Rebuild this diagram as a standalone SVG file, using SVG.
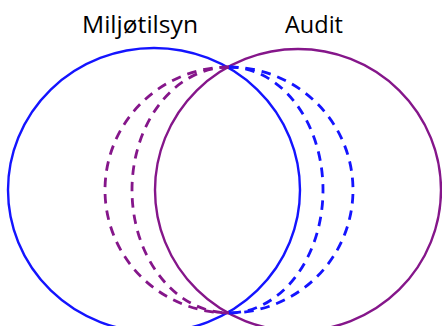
<svg xmlns="http://www.w3.org/2000/svg" width="442" height="326" viewBox="0 0 442 326">
  <style>
    .label { font-family: "Open Sans", "Liberation Sans", sans-serif; font-size: 23px; fill: #000; text-anchor: middle; }
    .ring { fill: none; stroke-width: 2.4; }
    .blue { stroke: #1414FF; }
    .purple { stroke: #85168A; }
    .dash { fill: none; stroke-width: 2.8; stroke-dasharray: 9.5 7; }
  </style>
  <rect width="442" height="326" fill="#fff"/>
  <g id="miljotilsyn">
    <ellipse class="ring blue" cx="154" cy="190" rx="146" ry="142"/>
    <text class="label" x="140" y="33" textLength="116" lengthAdjust="spacingAndGlyphs">Miljøtilsyn</text>
  </g>
  <g id="audit">
    <ellipse class="ring purple" cx="298" cy="190" rx="143" ry="141"/>
    <text class="label" x="314" y="33" textLength="58" lengthAdjust="spacingAndGlyphs">Audit</text>
  </g>
  <g id="connectors">
    <!-- shifted copies of the audit circle -->
    <path class="dash purple" d="M229 67 A124 123 0 0 0 229 313"/>
    <path class="dash purple" d="M229 67 A97 123 0 0 0 229 313"/>
    <!-- shifted copies of the miljøtilsyn circle -->
    <path class="dash blue" d="M229 67 A94 123 0 0 1 229 313"/>
    <path class="dash blue" d="M229 67 A124 123 0 0 1 229 313"/>
  </g>
</svg>
